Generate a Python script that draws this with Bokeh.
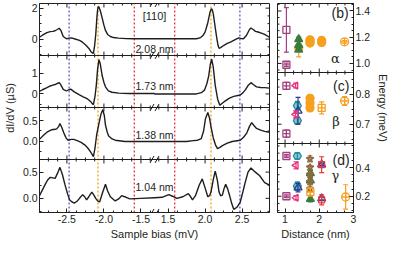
import numpy as np
from bokeh.plotting import figure
from bokeh.layouts import row
from bokeh.models import FixedTicker, Span, Label, Range1d
from bokeh.core.properties import value
from bokeh.embed import file_html
from bokeh.resources import INLINE

# ---------------- data: panel (a) dI/dV spectra ----------------
bias_208 = [-2.87, -2.83, -2.77, -2.725, -2.69, -2.66, -2.63, -2.603, -2.58, -2.55, -2.506, -2.47, -2.44,
            -2.40, -2.33, -2.29, -2.242, -2.20, -2.177, -2.155, -2.142, -2.125, -2.11, -2.095, -2.085,
            -2.077, -2.065, -2.05, -2.024, -2.00, -1.979, -1.95, -1.913, -1.87, -1.804, -1.70, -1.60, -1.32,
            1.32, 1.60, 1.883, 1.94, 1.971, 2.00, 2.037, 2.065, 2.08, 2.089, 2.10, 2.112, 2.137, 2.16,
            2.175, 2.189, 2.21, 2.255, 2.30, 2.343, 2.40, 2.453, 2.49, 2.518, 2.56, 2.60, 2.62, 2.65,
            2.68, 2.716, 2.76, 2.804, 2.87]
didv_208 = [0.12, 0.25, 0.42, 0.48, 0.50, 0.54, 0.62, 0.70, 0.55, 0.17, 0.02, 0.06, 0.08,
            0.02, -0.08, -0.20, -0.40, -0.62, -0.80, -0.90, -0.92, -0.40, 0.33, 1.40, 1.90,
            2.10, 2.05, 1.85, 1.37, 0.90, 0.56, 0.30, 0.17, 0.10, 0.06, 0.03, 0.02, 0.02,
            0.02, 0.02, 0.02, 0.10, 0.23, 0.45, 1.06, 1.70, 1.92, 1.96, 1.85, 1.60, 0.75, 0.00,
            -0.40, -0.60, -0.55, -0.40, -0.28, -0.19, -0.05, 0.08, 0.03, 0.02, 0.25, 0.62, 0.72, 0.62,
            0.50, 0.46, 0.38, 0.30, 0.12]

bias_173 = [-2.87, -2.83, -2.769, -2.725, -2.69, -2.659, -2.63, -2.603, -2.58, -2.55, -2.506, -2.475,
            -2.449, -2.40, -2.33, -2.28, -2.221, -2.18, -2.155, -2.142, -2.12, -2.103, -2.085, -2.067,
            -2.05, -2.024, -2.00, -1.979, -1.94, -1.892, -1.80, -1.67, -1.32,
            1.32, 1.883, 1.95, 1.992, 2.025, 2.05, 2.07, 2.089, 2.11, 2.137, 2.17, 2.199, 2.24, 2.278,
            2.33, 2.387, 2.475, 2.51, 2.541, 2.58, 2.62, 2.65, 2.695, 2.75, 2.804, 2.87]
didv_173 = [0.12, 0.20, 0.30, 0.38, 0.42, 0.45, 0.50, 0.54, 0.42, 0.22, 0.14, 0.20,
            0.23, 0.10, -0.05, -0.14, -0.24, -0.36, -0.48, -0.51, -0.10, 0.41, 1.20, 1.64,
            1.45, 0.88, 0.55, 0.34, 0.15, 0.08, 0.04, 0.02, 0.02,
            0.0, 0.0, 0.06, 0.18, 0.50, 0.88, 1.40, 1.67, 1.30, 0.41, -0.25, -0.54, -0.42, -0.32,
            -0.20, -0.12, -0.05, 0.05, 0.18, 0.40, 0.54, 0.45, 0.34, 0.31, 0.30, 0.28]

bias_138 = [-2.87, -2.82, -2.769, -2.703, -2.66, -2.637, -2.61, -2.594, -2.57, -2.541, -2.51, -2.484,
            -2.44, -2.409, -2.36, -2.308, -2.26, -2.221, -2.18, -2.142, -2.12, -2.098, -2.067, -2.04,
            -2.015, -1.995, -1.979, -1.955, -1.936, -1.89, -1.848, -1.716, -1.32,
            1.32, 1.751, 1.839, 1.90, 1.949, 1.98, 2.005, 2.037, 2.06, 2.08, 2.11, 2.14, 2.168, 2.20,
            2.234, 2.30, 2.366, 2.475, 2.52, 2.563, 2.60, 2.629, 2.66, 2.695, 2.75, 2.804, 2.87]
didv_138 = [0.05, 0.14, 0.22, 0.28, 0.29, 0.30, 0.36, 0.43, 0.34, 0.20, 0.08, 0.03,
            0.05, 0.05, 0.02, -0.02, -0.08, -0.15, -0.25, -0.36, -0.15, 0.16, 0.43, 0.65,
            0.76, 0.62, 0.39, 0.22, 0.13, 0.06, 0.03, 0.0, 0.0,
            0.0, 0.0, 0.02, 0.03, 0.07, 0.25, 0.54, 0.69, 0.56, 0.35, 0.09, -0.08, -0.17, -0.14,
            -0.10, -0.04, 0.0, 0.03, 0.10, 0.20, 0.36, 0.45, 0.38, 0.31, 0.27, 0.24, 0.22]

bias_104 = [-2.87, -2.83, -2.791, -2.76, -2.725, -2.69, -2.659, -2.62, -2.594, -2.56, -2.528, -2.49,
            -2.462, -2.43, -2.396, -2.36, -2.33, -2.287, -2.26, -2.234, -2.20, -2.163, -2.135, -2.111,
            -2.085, -2.058, -2.02, -1.979, -1.95, -1.913, -1.848, -1.80, -1.761, -1.70, -1.65, -1.50, -1.32,
            1.32, 1.42, 1.51, 1.56, 1.62, 1.70, 1.774, 1.80, 1.83, 1.87, 1.92, 1.962, 2.00, 2.037,
            2.06, 2.08, 2.11, 2.137, 2.165, 2.189, 2.21, 2.234, 2.255, 2.278, 2.305, 2.33, 2.36, 2.387,
            2.43, 2.475, 2.51, 2.541, 2.58, 2.62, 2.66, 2.695, 2.738, 2.804, 2.87]
didv_104 = [0.05, 0.16, 0.27, 0.35, 0.40, 0.39, 0.38, 0.50, 0.59, 0.45, 0.27, 0.08,
            -0.03, -0.07, -0.09, -0.05, 0.0, 0.07, 0.03, -0.03, 0.04, 0.12, 0.06, 0.0,
            -0.05, -0.07, 0.10, 0.27, 0.14, 0.03, -0.05, -0.01, 0.05, 0.02, -0.01, 0.0, 0.01,
            0.01, 0.02, 0.07, 0.04, 0.0, 0.03, 0.09, 0.04, -0.03, 0.05, 0.25, 0.37, 0.20, 0.03,
            0.05, 0.12, 0.35, 0.52, 0.35, 0.12, 0.05, 0.06, 0.18, 0.27, 0.18, 0.06, -0.10, -0.21,
            -0.17, -0.07, 0.12, 0.30, 0.50, 0.58, 0.52, 0.48, 0.43, 0.30, 0.25]

curve_bias = [bias_208, bias_173, bias_138, bias_104]
curve_didv = [didv_208, didv_173, didv_138, didv_104]
distance_labels = ["2.08 nm", "1.73 nm", "1.38 nm", "1.04 nm"]
distance_label_level = [-0.61, 0.38, 0.16, 0.21]
lim_a = [(-1.06, 2.30), (-0.65, 1.84), (-0.43, 0.81), (-0.27, 0.74)]
ticks_a = [[0, 2], [0, 1], [0.0, 0.5], [0.0, 0.5]]
tick_labels_a = [["0", "2"], ["0", "1"], ["0.0", "0.5"], ["0.0", "0.5"]]
minor_step_a = [0.5, 0.5, 0.25, 0.25]
bias_ticks = [-2.5, -2.0, -1.5, 1.5, 2.0, 2.5]
bias_tick_labels = ["-2.5", "-2.0", "-1.5", "1.5", "2.0", "2.5"]
orange_bias = [-2.08, 2.08]
blue_bias = [-2.47, 2.47]
red_bias = [-1.59, 1.59]

# ---------------- data: panels (b)-(d) energies ----------------
purple_panel = ["b", "b", "c", "c", "d", "d"]
purple_x = [1.04, 1.04, 1.04, 1.04, 1.04, 1.04]
purple_y = [1.256, 0.990, 0.829, 0.668, 0.480, 0.200]
purple_err = [0.170, 0.012, 0.012, 0.012, 0.010, 0.010]
purple_inner = ["", "-", "+", "+", "-", "-"]

pink_panel = ["c", "c", "d", "d"]
pink_x = [1.31, 1.31, 1.32, 1.32]
pink_y = [0.830, 0.733, 0.415, 0.190]
pink_err = [0.008, 0.012, 0.025, 0.015]

teal_panel = ["c", "c", "d", "d"]
teal_x = [1.36, 1.36, 1.36, 1.36]
teal_y = [0.762, 0.712, 0.480, 0.270]
teal_err = [0.015, 0.012, 0.020, 0.030]

navy_panel = ["c", "d", "d", "d"]
navy_x = [1.38, 1.38, 2.07, 2.07]
navy_y = [0.745, 0.260, 0.420, 0.185]
navy_err = [0.045, 0.030, 0.005, 0.010]

green_panel = ["b", "b", "b", "d", "d", "d"]
green_x = [1.40, 1.40, 1.40, 1.74, 1.74, 1.74]
green_y = [1.185, 1.140, 1.105, 0.360, 0.310, 0.180]
green_err = [0.015, 0.010, 0.010, 0.020, 0.020, 0.020]

orange_panel = ["b", "b", "b", "b", "b", "b", "c", "c", "c"]
orange_x = [1.40, 1.73, 1.73, 1.73, 2.07, 2.07, 1.73, 1.73, 1.73]
orange_y = [1.120, 1.180, 1.168, 1.156, 1.175, 1.160, 0.787, 0.771, 0.755]
orange_err = [0.070, 0.012, 0.012, 0.012, 0.010, 0.010, 0.012, 0.012, 0.012]

orange_sq_panel = ["c", "d"]
orange_sq_x = [2.07, 1.74]
orange_sq_y = [0.755, 0.230]
orange_sq_err = [0.020, 0.030]

orange_cx_panel = ["b", "c", "d"]
orange_cx_x = [2.74, 2.74, 2.77]
orange_cx_y = [1.165, 0.778, 0.195]
orange_cx_err = [0.010, 0.015, 0.085]

brown_panel = ["d", "d", "d", "d", "d"]
brown_x = [1.73, 1.73, 1.73, 1.73, 1.73]
brown_y = [0.460, 0.400, 0.350, 0.300, 0.250]
brown_err = [0.020, 0.015, 0.015, 0.015, 0.015]

red_panel = ["d", "d"]
red_x = [2.07, 2.07]
red_y = [0.420, 0.175]
red_err = [0.055, 0.035]

lim_r = {"b": (0.931, 1.457), "c": (0.635, 0.874), "d": (0.087, 0.567)}
ticks_r = {"b": [1.0, 1.2, 1.4], "c": [0.7, 0.8], "d": [0.2, 0.4]}
minor_step_r = {"b": 0.05, "c": 0.025, "d": 0.05}
dist_ticks = [1, 2, 3]
dist_minor = [1.25, 1.5, 1.75, 2.25, 2.5, 2.75]
panel_letters = {"b": "(b)", "c": "(c)", "d": "(d)"}
panel_letter_pos = {"b": (2.61, 1.383), "c": (2.64, 0.829), "d": (2.64, 0.453)}
greek = {"b": "α", "c": "β", "d": "γ"}
greek_pos = {"b": (2.47, 1.035), "c": (2.49, 0.710), "d": (2.47, 0.347)}

# ---------------- styling / layout ----------------
FONT = "Liberation Sans"
INK = "#231f20"
C_ORANGE = "#f5a01e"
C_BLUE = "#5a5ac4"
C_RED = "#e8343c"
C_PURPLE = "#a2417f"
C_PINK = "#e8337c"
C_TEAL = "#1f8e9e"
C_NAVY = "#2b3a8f"
C_GREEN = "#3b7b3d"
C_BROWN = "#8e6b3e"

FH = 209
band_a = [(157, 209), (105, 157), (53, 105), (0, 53)]
band_r = {"b": (140, 209), "c": (69, 140), "d": (0, 69)}
BREAK = 1.317
U_MAX = 2.87 - BREAK
FW_A = 230
FW_R = 76
X0_R, X1_R = 0.78, 3.0
pxu = 2 * U_MAX / FW_A
pxr = (X1_R - X0_R) / FW_R


def u_of(v):
    v = np.asarray(v, dtype=float)
    return np.where(v < 0, v + BREAK, v - BREAK)


def y_of(val, i):
    lo, hi = lim_a[i]
    b, t = band_a[i]
    return b + (np.asarray(val, dtype=float) - lo) * (t - b) / (hi - lo)


def e_of(val, pn):
    lo, hi = lim_r[pn]
    b, t = band_r[pn]
    return b + (val - lo) * (t - b) / (hi - lo)


def ys(panels, vals):
    return np.array([e_of(v, pn) for pn, v in zip(panels, vals)])


def style_axis(ax):
    ax.axis_line_color = INK
    ax.axis_line_width = 1
    ax.major_tick_line_color = INK
    ax.minor_tick_line_color = INK
    ax.major_tick_in = 4
    ax.major_tick_out = 0
    ax.minor_tick_in = 2
    ax.minor_tick_out = 0
    ax.major_label_text_font = FONT
    ax.major_label_text_color = INK
    ax.major_label_text_font_size = "10.5px"
    ax.major_label_standoff = 2
    ax.axis_label_text_font = FONT
    ax.axis_label_text_font_style = "normal"
    ax.axis_label_text_color = INK
    ax.axis_label_text_font_size = "11px"


def hticks(fig, xs, y_edge, sign, major_len):
    # tick marks along a horizontal edge/boundary; sign=+1 upward, -1 downward, 0 both
    xs = list(xs)
    if sign == 0:
        y0, y1 = y_edge - major_len, y_edge + major_len
    else:
        y0, y1 = y_edge, y_edge + sign * major_len
    fig.segment(x0=xs, y0=[y0] * len(xs), x1=xs, y1=[y1] * len(xs), line_color=INK, line_width=1)


def vticks(fig, ys_, x_edge, dx):
    ys_ = list(ys_)
    fig.segment(x0=[x_edge] * len(ys_), y0=ys_, x1=[x_edge + dx] * len(ys_), y1=ys_, line_color=INK, line_width=1)


# ================= left figure: panel (a) =================
p = figure(frame_width=FW_A, frame_height=FH, x_range=Range1d(-U_MAX, U_MAX), y_range=Range1d(0, FH),
           output_backend="svg", toolbar_location=None, title=None,
           min_border_left=35, min_border_right=4, min_border_top=3, min_border_bottom=27)
p.grid.visible = False
p.outline_line_color = INK
p.background_fill_color = "white"

xmaj = [round(float(u), 5) for u in u_of(bias_ticks)]
xover = {k: lab for k, lab in zip(xmaj, bias_tick_labels)}
minor_bias = [v for v in np.round(np.arange(-2.75, -1.3, 0.125), 4) if v not in bias_ticks] + \
             [v for v in np.round(np.arange(1.375, 2.88, 0.125), 4) if v not in bias_ticks]
xmin_t = [round(float(u), 5) for u in u_of(minor_bias)]
xticker = FixedTicker(ticks=xmaj, minor_ticks=xmin_t)

ymaj, yover, ymin_t = [], {}, []
for i in range(4):
    for t, lab in zip(ticks_a[i], tick_labels_a[i]):
        Y = round(float(y_of(t, i)), 4)
        ymaj.append(Y)
        yover[Y] = lab
    lo, hi = lim_a[i]
    st = minor_step_a[i]
    for t in np.arange(np.ceil(lo / st) * st, hi, st):
        if all(abs(t - tt) > 1e-9 for tt in ticks_a[i]):
            ymin_t.append(round(float(y_of(t, i)), 4))
yticker = FixedTicker(ticks=ymaj, minor_ticks=ymin_t)

p.xaxis.ticker = xticker
p.xaxis.major_label_overrides = xover
p.xaxis.axis_label = "Sample bias (mV)"
p.xaxis.axis_label_standoff = 2
p.yaxis.ticker = yticker
p.yaxis.major_label_overrides = yover
p.yaxis.axis_label = "dI/dV (µS)"
p.yaxis.axis_label_standoff = 4
style_axis(p.xaxis[0])
style_axis(p.yaxis[0])

# dashed reference lines
for vals, col in [(orange_bias, C_ORANGE), (blue_bias, C_BLUE), (red_bias, C_RED)]:
    uu = u_of(vals)
    p.segment(x0=uu, y0=[0] * len(uu), x1=uu, y1=[FH] * len(uu), line_color=col,
              line_dash="2 2", line_width=1.3)

# top edge ticks, right edge ticks
hticks(p, xmaj, FH, -1, 4)
hticks(p, xmin_t, FH, -1, 2)
vticks(p, ymaj, U_MAX, -4 * pxu)
vticks(p, ymin_t, U_MAX, -2 * pxu)

# internal panel boundaries with ticks
inner_a = [band_a[0][0], band_a[1][0], band_a[2][0]]
for Yb in inner_a:
    p.add_layout(Span(location=Yb, dimension="width", line_color=INK, line_width=1))
    hticks(p, xmaj, Yb, 0, 4)
    hticks(p, xmin_t, Yb, 0, 2)

# break marks
for Yb in [0] + inner_a + [FH]:
    for c in (-2.5, 2.5):
        p.segment(x0=[(c - 2) * pxu], y0=[Yb - 3.5], x1=[(c + 2) * pxu], y1=[Yb + 3.5], line_color=INK, line_width=1)

# curves
for i in range(4):
    p.line(u_of(curve_bias[i]), y_of(curve_didv[i], i), line_color="#1e1e1e", line_width=1.4)

p.text(x=[0.0] * 4, y=[float(y_of(distance_label_level[i], i)) for i in range(4)], text=distance_labels,
       text_font=value(FONT), text_font_size="10.5px", text_color=INK, text_align="center", text_baseline="middle")
p.text(x=[0.0], y=[float(y_of(1.5, 0))], text=["[110]"], text_font=value(FONT), text_font_size="11px",
       text_color=INK, text_align="center", text_baseline="middle")
p.add_layout(Label(x=-U_MAX - 34 * pxu, y=float(y_of(1.375, 0)), text="(a)", text_font=FONT,
                   text_font_size="15px", text_color=INK, text_align="left", text_baseline="middle"))

# ================= right figure: panels (b)-(d) =================
q = figure(frame_width=FW_R, frame_height=FH, x_range=Range1d(X0_R, X1_R), y_range=Range1d(0, FH),
           output_backend="svg", toolbar_location=None, title=None, y_axis_location="right",
           min_border_left=4, min_border_right=36, min_border_top=3, min_border_bottom=27)
q.grid.visible = False
q.outline_line_color = INK
q.background_fill_color = "white"

rmaj, rover, rmin = [], {}, []
for pn in ["b", "c", "d"]:
    for t in ticks_r[pn]:
        Y = round(float(e_of(t, pn)), 4)
        rmaj.append(Y)
        rover[Y] = f"{t:.1f}"
    lo, hi = lim_r[pn]
    st = minor_step_r[pn]
    for t in np.arange(np.ceil(lo / st) * st, hi, st):
        if all(abs(t - tt) > 1e-9 for tt in ticks_r[pn]):
            rmin.append(round(float(e_of(t, pn)), 4))
rticker = FixedTicker(ticks=rmaj, minor_ticks=rmin)
dticker = FixedTicker(ticks=dist_ticks, minor_ticks=dist_minor)

q.yaxis.ticker = rticker
q.yaxis.major_label_overrides = rover
q.yaxis.axis_label = "Energy (meV)"
q.yaxis.axis_label_standoff = 4
q.xaxis.ticker = dticker
q.xaxis.axis_label = "Distance (nm)"
q.xaxis.axis_label_standoff = 2
style_axis(q.xaxis[0])
style_axis(q.yaxis[0])

dmaj = [float(t) for t in dist_ticks]
hticks(q, dmaj, FH, -1, 4)
hticks(q, dist_minor, FH, -1, 2)
vticks(q, rmaj, X0_R, 4 * pxr)
vticks(q, rmin, X0_R, 2 * pxr)
for Yb in [band_r["b"][0], band_r["c"][0]]:
    q.add_layout(Span(location=Yb, dimension="width", line_color=INK, line_width=1))
    hticks(q, dmaj, Yb, 0, 4)
    hticks(q, dist_minor, Yb, 0, 2)


def draw_series(panels, xs, yv, err, color, marker, fill, size=7, angle=0.0, alpha=1.0):
    yv = np.asarray(yv, dtype=float)
    err = np.asarray(err, dtype=float)
    yc = ys(panels, yv)
    lo = ys(panels, yv - err)
    hi = ys(panels, yv + err)
    q.segment(x0=xs, y0=lo, x1=xs, y1=hi, line_color=color, line_width=1.2)
    q.scatter(xs, lo, marker="dash", size=5, line_color=color, line_width=1.2)
    q.scatter(xs, hi, marker="dash", size=5, line_color=color, line_width=1.2)
    q.scatter(xs, yc, marker=marker, size=size, line_color=color, fill_color=fill, fill_alpha=alpha,
              line_width=1.3, angle=angle)
    return yc


draw_series(orange_panel, orange_x, orange_y, orange_err, C_ORANGE, "circle", C_ORANGE, size=8)
draw_series(green_panel, green_x, green_y, green_err, C_GREEN, "triangle", C_GREEN, size=8)
draw_series(teal_panel, teal_x, teal_y, teal_err, C_TEAL, "hex", C_TEAL, size=8, alpha=0.5)
draw_series(navy_panel, navy_x, navy_y, navy_err, C_NAVY, "triangle", None, size=8)
draw_series(pink_panel, pink_x, pink_y, pink_err, C_PINK, "triangle", None, size=7, angle=np.pi / 2)
yc_p = draw_series(purple_panel, purple_x, purple_y, purple_err, C_PURPLE, "square", None, size=7)
for xx, yy, inner in zip(purple_x, yc_p, purple_inner):
    if inner == "-":
        q.scatter([xx], [yy], marker="dash", size=6, line_color=C_PURPLE, line_width=1.2)
    elif inner == "+":
        q.scatter([xx], [yy], marker="cross", size=6, line_color=C_PURPLE, line_width=1.2)
draw_series(brown_panel, brown_x, brown_y, brown_err, C_BROWN, "star", C_BROWN, size=8, alpha=0.6)
draw_series(red_panel, red_x, red_y, red_err, C_RED, "square", None, size=6)
draw_series(orange_sq_panel, orange_sq_x, orange_sq_y, orange_sq_err, C_ORANGE, "square_cross", None, size=7)
draw_series(orange_cx_panel, orange_cx_x, orange_cx_y, orange_cx_err, C_ORANGE, "circle_cross", None, size=8)

for pn in ["b", "c", "d"]:
    lx, ly = panel_letter_pos[pn]
    q.text(x=[lx], y=[float(e_of(ly, pn))], text=[panel_letters[pn]], text_font=value(FONT),
           text_font_size="14px", text_color=INK, text_align="center", text_baseline="middle")
    gx, gy = greek_pos[pn]
    q.text(x=[gx], y=[float(e_of(gy, pn))], text=[greek[pn]], text_font=value("DejaVu Serif"),
           text_font_size="13px", text_color=INK, text_align="center", text_baseline="middle")

layout = row(p, q)
open("out.html", "w").write(file_html(layout, INLINE))
